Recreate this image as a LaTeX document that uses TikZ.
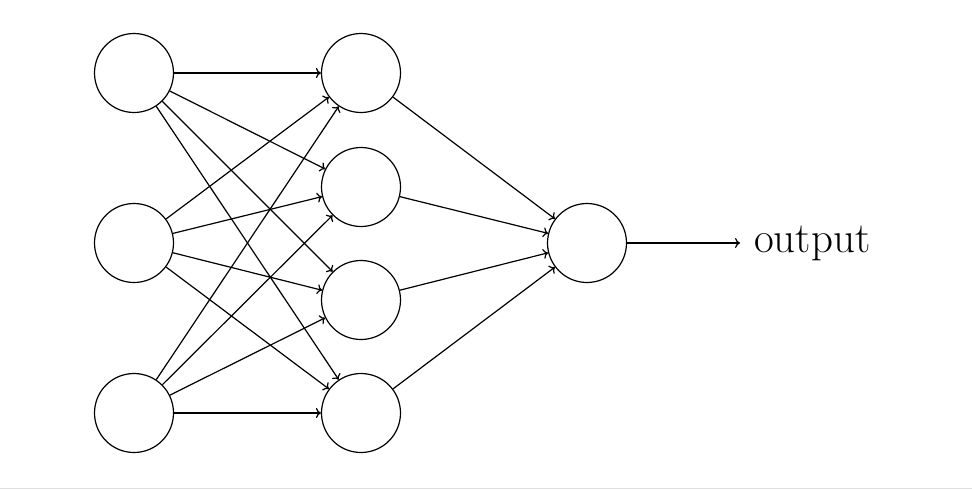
\documentclass[tikz,border=0pt]{standalone}
\usetikzlibrary{arrows.meta}
\begin{document}
\begin{tikzpicture}[x=1pt,y=-1pt,
  neuron/.style={circle,draw,line width=1.2pt,minimum size=79pt,inner sep=0pt},
  conn/.style={line width=1.2pt,-{To[length=5pt,width=10pt]}}]
\useasboundingbox (0,0) rectangle (972,490);
\draw[black!12,line width=1.5pt] (0,488.5) -- (972,488.5);
\node[neuron] (i1) at (134,73) {};
\node[neuron] (i2) at (134,243) {};
\node[neuron] (i3) at (134,413) {};
\node[neuron] (h1) at (361,73) {};
\node[neuron] (h2) at (361,187) {};
\node[neuron] (h3) at (361,300) {};
\node[neuron] (h4) at (361,413) {};
\node[neuron] (o) at (587,243) {};
\foreach \i in {1,2,3}
  \foreach \h in {1,2,3,4}
    \draw[conn] (i\i) -- (h\h);
\foreach \h in {1,2,3,4}
  \draw[conn] (h\h) -- (o);
\coordinate (oend) at (740,243);
\draw[conn] (o) -- (oend);
\node[anchor=base west,inner sep=0pt,font=\fontsize{43}{52}\selectfont] (lbl) at (754,252) {output};
\end{tikzpicture}
\end{document}
